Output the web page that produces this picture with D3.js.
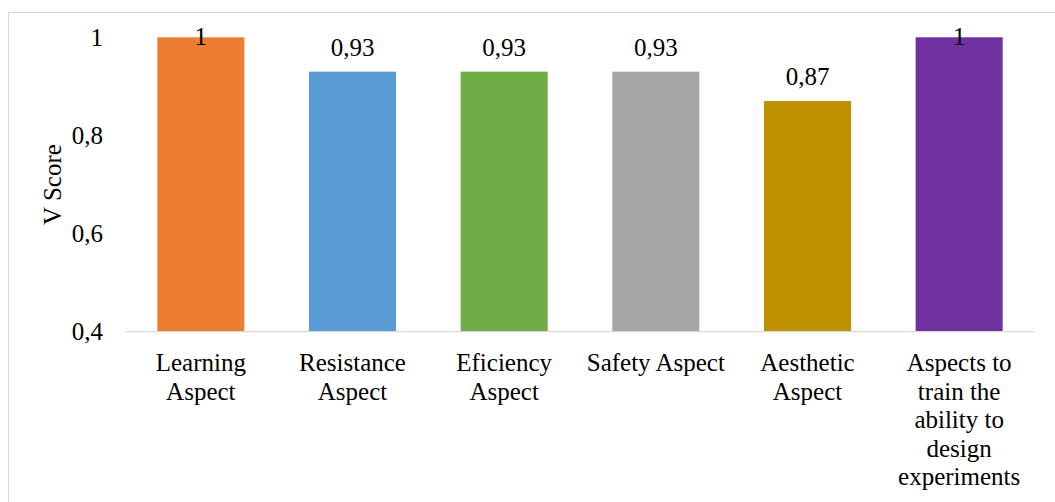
<!DOCTYPE html>
<html>
<head>
<meta charset="utf-8">
<script src="https://cdn.jsdelivr.net/npm/d3@7/dist/d3.min.js"></script>
<style>
  html, body { margin: 0; padding: 0; background: #fff; }
  svg { display: block; }
  svg text { font-family: "Liberation Serif", Tinos, "Times New Roman", Times, "DejaVu Serif", "Noto Serif", serif; fill: #000; }
</style>
</head>
<body>
<svg id="chart" width="1055" height="502"></svg>
<script>
const categories = [
  "Learning\nAspect",
  "Resistance\nAspect",
  "Eficiency\nAspect",
  "Safety Aspect",
  "Aesthetic\nAspect",
  "Aspects to\ntrain the\nability to\ndesign\nexperiments"
];
const values = [1, 0.93, 0.93, 0.93, 0.87, 1];
const colors = ["#ED7D31", "#5B9BD5", "#70AD47", "#A5A5A5", "#BF9000", "#7030A0"];
const yTicks = [0.4, 0.6, 0.8, 1];
const yTitle = "V Score";

const svg = d3.select("#chart");
const plot = { left: 125, right: 1035, top: 37.3, bottom: 331.7 };
const fontSize = 25;
const FONT = "'Liberation Serif', Tinos, 'Times New Roman', Times, 'DejaVu Serif', serif";
const fmt = d => String(d).replace(".", ",");

svg.append("rect")
  .attr("x", 8.5).attr("y", 12.5)
  .attr("width", 1200).attr("height", 700)
  .attr("fill", "none").attr("stroke", "#d9d9d9").attr("stroke-width", 1);

const x = d3.scaleBand()
  .domain(d3.range(categories.length))
  .range([plot.left, plot.right])
  .paddingInner(0.426)
  .paddingOuter(0.213);

const y = d3.scaleLinear()
  .domain([0.4, 1])
  .range([plot.bottom, plot.top]);

svg.append("g").selectAll("rect")
  .data(values)
  .join("rect")
  .attr("x", (d, i) => x(i))
  .attr("y", d => y(d))
  .attr("width", x.bandwidth())
  .attr("height", d => y(0.4) - y(d))
  .attr("fill", (d, i) => colors[i]);

svg.append("line")
  .attr("x1", plot.left).attr("x2", plot.right)
  .attr("y1", y(0.4)).attr("y2", y(0.4))
  .attr("stroke", "#d9d9d9").attr("stroke-width", 1.3);

const yAxis = svg.append("g")
  .attr("transform", `translate(${plot.left},0)`)
  .call(d3.axisLeft(y).tickValues(yTicks).tickFormat(fmt).tickSize(0).tickPadding(22));
yAxis.attr("font-family", FONT).attr("font-size", fontSize);
yAxis.select(".domain").remove();
yAxis.selectAll("text").attr("fill", "#000");

const xl = svg.append("g").attr("font-family", FONT).selectAll("text")
  .data(categories)
  .join("text")
  .attr("text-anchor", "middle")
  .attr("font-size", fontSize)
  .attr("x", (d, i) => x(i) + x.bandwidth() / 2)
  .attr("y", 371);
xl.each(function(d, i) {
  const t = d3.select(this);
  d.split("\n").forEach((line, k) => {
    t.append("tspan")
      .attr("x", x(i) + x.bandwidth() / 2)
      .attr("dy", k === 0 ? 0 : 28.5)
      .text(line);
  });
});

svg.append("g").attr("font-family", FONT).selectAll("text")
  .data(values)
  .join("text")
  .attr("text-anchor", "middle")
  .attr("font-size", fontSize)
  .attr("x", (d, i) => x(i) + x.bandwidth() / 2)
  .attr("y", d => Math.max(y(d) - 16, 45))
  .text(fmt);

svg.append("text")
  .attr("text-anchor", "middle")
  .attr("font-family", FONT)
  .attr("font-size", fontSize)
  .attr("transform", `translate(61,${(plot.top + plot.bottom) / 2}) rotate(-90)`)
  .text(yTitle);
</script>
</body>
</html>
